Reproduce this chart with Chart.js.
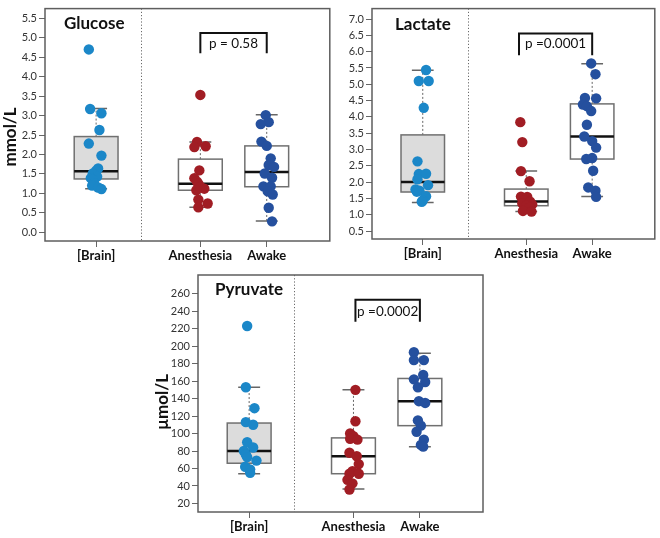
<!DOCTYPE html>
<html><head><meta charset="utf-8">
<script src="https://cdn.jsdelivr.net/npm/chart.js@4.4.1/dist/chart.umd.min.js"></script>
<style>
html,body{margin:0;padding:0;background:#fff;width:660px;height:538px;overflow:hidden}
canvas{position:absolute}
</style></head><body>
<canvas id="glucose" width="335" height="266" style="left:0px;top:0px"></canvas>
<canvas id="lactate" width="325" height="266" style="left:335px;top:0px"></canvas>
<canvas id="pyruvate" width="350" height="273" style="left:150px;top:265px"></canvas>
<script>
// ---------------- DATA ----------------
const categories = ['[Brain]', 'Anesthesia', 'Awake'];
const categoryPos = [1, 2.57, 3.57];
const dividerPos = 1.68;

// Glucose (mmol/L)
const glucoseTicks = [0.0,0.5,1.0,1.5,2.0,2.5,3.0,3.5,4.0,4.5,5.0,5.5];
const glucoseBrain = [4.70, 3.17, 3.06, 2.63, 2.28, 1.97, 1.64, 1.58, 1.51, 1.43, 1.39, 1.35, 1.26, 1.20, 1.15, 1.11];
const glucoseBrainJitter = [-0.11, -0.09, 0.08, 0.05, -0.11, 0.08, 0.03, 0, -0.05, 0.015, -0.08, -0.05, -0.03, -0.06, 0.03, 0.08];
const glucoseAnes = [3.53, 2.32, 2.21, 2.19, 1.59, 1.39, 1.30, 1.25, 1.17, 1.12, 1.08, 0.84, 0.74, 0.64];
const glucoseAnesJitter = [0, -0.05, 0.08, -0.09, -0.015, -0.09, -0.05, -0.03, 0, 0.06, -0.06, -0.03, 0.11, -0.03];
const glucoseAwake = [3.01, 2.83, 2.78, 2.33, 2.22, 1.90, 1.73, 1.68, 1.51, 1.40, 1.18, 1.18, 1.05, 0.97, 0.63, 0.28];
const glucoseAwakeJitter = [-0.015, 0.03, -0.09, -0.08, 0, 0.06, 0.03, 0.11, -0.03, 0.08, -0.05, 0.06, 0.015, 0.09, 0.03, 0.08];
// box stats: [whisker low, Q1, median, Q3, whisker high]
const glucoseBrainBox = [1.12, 1.37, 1.57, 2.46, 3.18];
const glucoseAnesBox = [0.64, 1.08, 1.25, 1.88, 2.32];
const glucoseAwakeBox = [0.29, 1.17, 1.55, 2.22, 3.02];
const glucoseP = 'p = 0.58';

// Lactate (mmol/L)
const lactateTicks = [0.5,1.0,1.5,2.0,2.5,3.0,3.5,4.0,4.5,5.0,5.5,6.0,6.5,7.0];
const lactateBrain = [5.44, 5.10, 5.10, 4.28, 2.64, 2.25, 2.26, 2.09, 1.91, 1.78, 1.74, 1.71, 1.57, 1.44, 1.40];
const lactateBrainJitter = [0.05, -0.06, 0.09, 0.015, -0.08, -0.06, 0.05, -0.08, 0.08, -0.11, -0.05, -0.09, 0.05, 0, -0.015];
const lactateAnes = [3.84, 3.23, 2.34, 2.03, 1.56, 1.55, 1.45, 1.40, 1.35, 1.32, 1.28, 1.22, 1.12, 1.10];
const lactateAnesJitter = [-0.09, -0.06, -0.08, 0.05, -0.08, 0.015, -0.03, 0.06, -0.06, 0.09, 0, 0.05, -0.05, 0.08];
const lactateAwake = [5.64, 5.31, 4.58, 4.57, 4.38, 4.33, 4.18, 3.76, 3.40, 3.26, 3.06, 2.71, 2.74, 2.35, 1.84, 1.74, 1.55];
const lactateAwakeJitter = [-0.015, 0.05, -0.11, 0.06, -0.14, -0.08, -0.015, -0.08, -0.12, 0, 0.06, -0.09, 0, 0.015, -0.06, 0.05, 0.06];
const lactateBrainBox = [1.38, 1.70, 2.01, 3.45, 5.43];
const lactateAnesBox = [1.10, 1.28, 1.41, 1.79, 2.34];
const lactateAwakeBox = [1.56, 2.71, 3.40, 4.40, 5.63];
const lactateP = 'p =0.0001';

// Pyruvate (µmol/L)
const pyruvateTicks = [20,40,60,80,100,120,140,160,180,200,220,240,260];
const pyruvateBrain = [223, 153, 129, 113, 110, 90, 84, 80, 76, 73, 69, 62, 59, 55];
const pyruvateBrainJitter = [-0.03, -0.05, 0.08, -0.05, 0.06, -0.03, 0.06, -0.08, -0.05, -0.03, 0.11, -0.06, 0.015, 0.015];
const pyruvateAnes = [150, 114, 100, 97, 94, 93, 78, 74, 65, 57, 54, 54, 47, 43, 36];
const pyruvateAnesJitter = [0.03, 0.03, -0.05, 0, -0.05, 0.06, -0.06, 0.05, 0.08, -0.015, -0.06, 0.08, -0.09, -0.015, -0.06];
const pyruvateAwake = [193, 184, 184, 167, 162, 159, 153, 137, 135, 115, 109, 102, 93, 87, 85];
const pyruvateAwakeJitter = [-0.09, -0.09, 0.06, 0.05, -0.09, 0.08, -0.03, -0.015, 0.08, -0.03, 0.015, -0.05, 0.06, 0.015, 0.05];
const pyruvateBrainBox = [54, 66, 80, 112, 153];
const pyruvateAnesBox = [36.5, 54, 74, 95, 150];
const pyruvateAwakeBox = [85, 109, 137, 163, 192];
const pyruvateP = 'p =0.0002';

// ---------------- STYLE ----------------
const pointColors = ['#1b87c8', '#a11d24', '#25509e'];
const boxFills = ['#dcdcdc', '#ffffff', '#ffffff'];
const boxWidth = 0.66;
const FONT = 'Lato, "Open Sans", sans-serif';

const panelPlugin = {
  id: 'panel',
  beforeDatasetsDraw(chart) {
    const o = chart.options.plugins.panel;
    const ctx = chart.ctx, xs = chart.scales.x, ys = chart.scales.y, a = chart.chartArea;
    ctx.save();
    ctx.strokeStyle = '#6a6a6a'; ctx.lineWidth = 1; ctx.setLineDash([1.2, 2]);
    const dx = Math.round(xs.getPixelForValue(dividerPos)) + 0.5;
    ctx.beginPath(); ctx.moveTo(dx, a.top); ctx.lineTo(dx, a.bottom); ctx.stroke();
    o.boxes.forEach((b, i) => {
      const cx = xs.getPixelForValue(categoryPos[i]);
      const hw = xs.getPixelForValue(categoryPos[i] + boxWidth / 2) - cx;
      const [lo, q1, med, q3, hi] = b.map(v => ys.getPixelForValue(v));
      ctx.setLineDash([2, 2]); ctx.strokeStyle = '#666'; ctx.lineWidth = 1;
      ctx.beginPath(); ctx.moveTo(cx, lo); ctx.lineTo(cx, q1); ctx.moveTo(cx, q3); ctx.lineTo(cx, hi); ctx.stroke();
      ctx.setLineDash([]); ctx.lineWidth = 1.5; ctx.strokeStyle = '#666';
      ctx.beginPath();
      ctx.moveTo(cx - hw / 2, lo); ctx.lineTo(cx + hw / 2, lo);
      ctx.moveTo(cx - hw / 2, hi); ctx.lineTo(cx + hw / 2, hi);
      ctx.stroke();
      ctx.fillStyle = boxFills[i];
      ctx.fillRect(cx - hw, q3, 2 * hw, q1 - q3);
      ctx.strokeStyle = '#707070'; ctx.lineWidth = 1.5;
      ctx.strokeRect(cx - hw, q3, 2 * hw, q1 - q3);
      ctx.strokeStyle = '#111'; ctx.lineWidth = 2.5;
      ctx.beginPath(); ctx.moveTo(cx - hw, med); ctx.lineTo(cx + hw, med); ctx.stroke();
    });
    ctx.restore();
  },
  afterDatasetsDraw(chart) {
    const o = chart.options.plugins.panel;
    const ctx = chart.ctx, xs = chart.scales.x, ys = chart.scales.y, a = chart.chartArea;
    ctx.save();
    ctx.strokeStyle = '#5e5e5e'; ctx.lineWidth = 1.5;
    ctx.strokeRect(a.left, a.top, a.right - a.left, a.bottom - a.top);
    const br = o.bracket;
    const x1 = xs.getPixelForValue(br.x1), x2 = xs.getPixelForValue(br.x2);
    const yt = ys.getPixelForValue(br.top), yb = ys.getPixelForValue(br.bottom);
    ctx.strokeStyle = '#111'; ctx.lineWidth = 2;
    ctx.beginPath(); ctx.moveTo(x1, yb); ctx.lineTo(x1, yt); ctx.lineTo(x2, yt); ctx.lineTo(x2, yb); ctx.stroke();
    ctx.fillStyle = '#111'; ctx.font = '13.5px ' + FONT; ctx.textAlign = 'center'; ctx.textBaseline = 'middle';
    ctx.fillText(br.text, (x1 + x2) / 2, ys.getPixelForValue(br.textY));
    ctx.font = 'bold 17px ' + FONT; ctx.textAlign = 'left';
    ctx.fillText(o.title, a.left + o.titleDx, a.top + o.titleDy);
    if (o.yTitle) {
      ctx.translate(o.yTitleX, o.yTitleY); ctx.rotate(-Math.PI / 2);
      ctx.font = 'bold 17px ' + FONT; ctx.textAlign = 'center';
      ctx.fillText(o.yTitle, 0, 0);
    }
    ctx.restore();
  }
};

function makePanel(id, cfg) {
  const groups = [cfg.brain, cfg.anes, cfg.awake];
  const jits = [cfg.brainJ, cfg.anesJ, cfg.awakeJ];
  const datasets = groups.map((vals, g) => ({
    data: vals.map((v, i) => ({ x: categoryPos[g] + jits[g][i], y: v })),
    backgroundColor: pointColors[g], borderWidth: 0, pointRadius: 5.2, pointHoverRadius: 5.2
  }));
  return new Chart(document.getElementById(id), {
    type: 'scatter',
    data: { datasets },
    plugins: [panelPlugin],
    options: {
      responsive: false, animation: false, events: [],
      layout: { padding: cfg.padding },
      plugins: {
        legend: { display: false }, tooltip: { enabled: false },
        panel: {
          boxes: cfg.boxes, bracket: cfg.bracket, title: cfg.title,
          titleDx: cfg.titleDx, titleDy: cfg.titleDy,
          yTitle: cfg.yTitle, yTitleX: cfg.yTitleX, yTitleY: cfg.yTitleY
        }
      },
      scales: {
        x: {
          type: 'linear', min: 0.23, max: 4.52,
          afterBuildTicks: s => { s.ticks = categoryPos.map(v => ({ value: v })); },
          afterFit: s => { s.height = cfg.xHeight; },
          grid: { drawOnChartArea: false, drawTicks: true, tickLength: 6, color: '#666', lineWidth: 1 },
          border: { display: false },
          ticks: {
            autoSkip: false, maxRotation: 0, minRotation: 0, padding: 1,
            color: '#111', font: { family: FONT, size: 13, weight: 'bold' },
            callback: v => categories[categoryPos.indexOf(v)]
          }
        },
        y: {
          type: 'linear', min: cfg.ymin, max: cfg.ymax,
          afterBuildTicks: s => { s.ticks = cfg.ticks.map(v => ({ value: v })); },
          afterFit: s => { s.width = cfg.yWidth; },
          grid: { drawOnChartArea: false, drawTicks: true, tickLength: 6, color: '#666', lineWidth: 1 },
          border: { display: false },
          ticks: {
            padding: 2, color: '#333', font: { family: FONT, size: 11 },
            callback: v => cfg.decimals ? Number(v).toFixed(1) : String(v)
          }
        }
      }
    }
  });
}

makePanel('glucose', {
  brain: glucoseBrain, anes: glucoseAnes, awake: glucoseAwake,
  brainJ: glucoseBrainJitter, anesJ: glucoseAnesJitter, awakeJ: glucoseAwakeJitter,
  boxes: [glucoseBrainBox, glucoseAnesBox, glucoseAwakeBox],
  ticks: glucoseTicks, ymin: -0.225, ymax: 5.75, decimals: true,
  bracket: { x1: 2.57, x2: 3.57, top: 5.12, bottom: 4.6, textY: 4.86, text: glucoseP },
  title: 'Glucose', titleDx: 19, titleDy: 15,
  yTitle: 'mmol/L', yTitleX: 11, yTitleY: 137,
  padding: { left: 0, top: 2, right: 2, bottom: 0 }, yWidth: 45, xHeight: 25
});

makePanel('lactate', {
  brain: lactateBrain, anes: lactateAnes, awake: lactateAwake,
  brainJ: lactateBrainJitter, anesJ: lactateAnesJitter, awakeJ: lactateAwakeJitter,
  boxes: [lactateBrainBox, lactateAnesBox, lactateAwakeBox],
  ticks: lactateTicks, ymin: 0.26, ymax: 7.32, decimals: true,
  bracket: { x1: 2.46, x2: 3.57, top: 6.56, bottom: 5.89, textY: 6.24, text: lactateP },
  title: 'Lactate', titleDx: 23, titleDy: 16,
  yTitle: null,
  padding: { left: 0, top: 1, right: 5, bottom: 0 }, yWidth: 37, xHeight: 27
});

makePanel('pyruvate', {
  brain: pyruvateBrain, anes: pyruvateAnes, awake: pyruvateAwake,
  brainJ: pyruvateBrainJitter, anesJ: pyruvateAnesJitter, awakeJ: pyruvateAwakeJitter,
  boxes: [pyruvateBrainBox, pyruvateAnesBox, pyruvateAwakeBox],
  ticks: pyruvateTicks, ymin: 10.2, ymax: 281.4, decimals: false,
  bracket: { x1: 2.6, x2: 3.57, top: 253, bottom: 228, textY: 240, text: pyruvateP },
  title: 'Pyruvate', titleDx: 17, titleDy: 15,
  yTitle: 'µmol/L', yTitleX: 13, yTitleY: 137,
  padding: { left: 0, top: 10, right: 17, bottom: 0 }, yWidth: 48, xHeight: 26
});
</script>
</body></html>
